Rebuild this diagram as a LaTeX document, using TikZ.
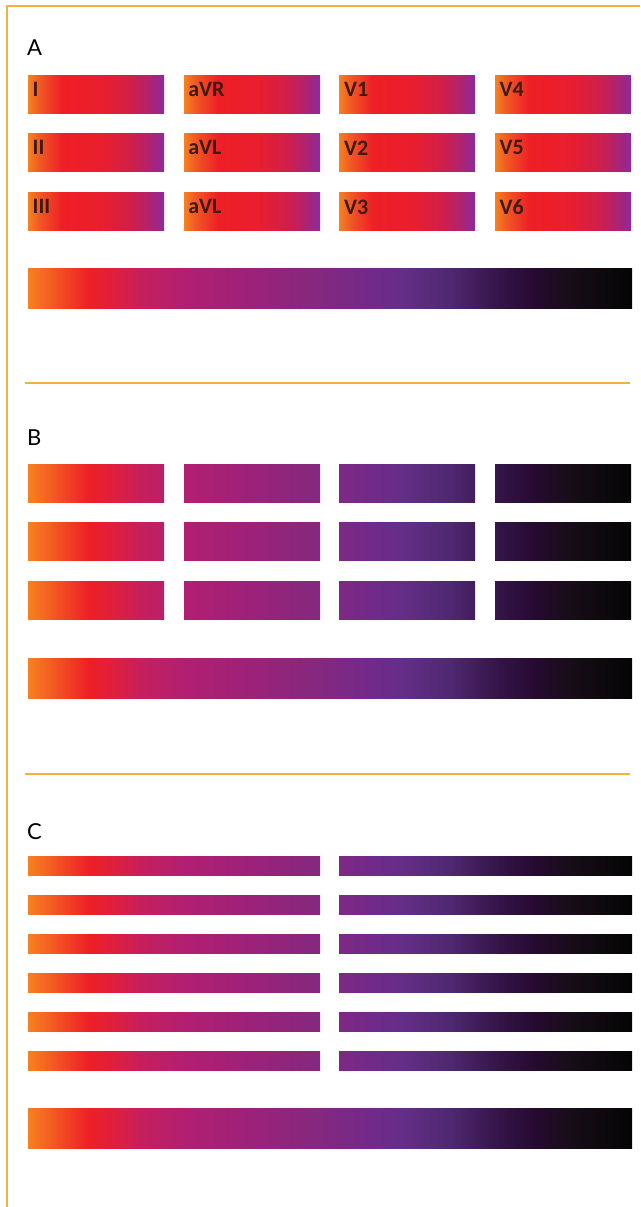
\documentclass[tikz,border=0pt]{standalone}
\usepackage{fontspec}
\newfontfamily\leadfont{Carlito}
\newfontfamily\panelfont{Lato}
\definecolor{frameline}{HTML}{F0B43E}
\definecolor{leadink}{HTML}{3E1A12}
% colour scale of the long bars
\definecolor{hA}{HTML}{F7821F}
\definecolor{hB}{HTML}{F35A22}
\definecolor{hC}{HTML}{EE1F25}
\definecolor{hD}{HTML}{E01F3C}
\definecolor{hE}{HTML}{C51F5E}
\definecolor{hF}{HTML}{B21F72}
\definecolor{hG}{HTML}{9E2179}
\definecolor{hH}{HTML}{85287F}
\definecolor{hI}{HTML}{74298A}
\definecolor{hJ}{HTML}{642E88}
\definecolor{hK}{HTML}{4E2870}
\definecolor{hL}{HTML}{341448}
\definecolor{hM}{HTML}{260A30}
\definecolor{hN}{HTML}{170D17}
\definecolor{hO}{HTML}{050505}
\pgfdeclarehorizontalshading{heatscale}{100bp}{color(0bp)=(hA); color(25bp)=(hA);
    color(27bp)=(hB); color(30bp)=(hC); color(32bp)=(hD); color(34.5bp)=(hE);
    color(38bp)=(hF); color(43bp)=(hG); color(49bp)=(hH); color(53bp)=(hI);
    color(56bp)=(hJ); color(60bp)=(hK); color(64bp)=(hL); color(67bp)=(hM);
    color(70bp)=(hN); color(75bp)=(hO); color(100bp)=(hO)}
% colour scale of the lead bars
\definecolor{lA}{HTML}{F58220}
\definecolor{lB}{HTML}{F15A24}
\definecolor{lC}{HTML}{EE1F25}
\definecolor{lD}{HTML}{E91E2E}
\definecolor{lE}{HTML}{D11F48}
\definecolor{lF}{HTML}{B3226C}
\definecolor{lG}{HTML}{8C2A9C}
\pgfdeclarehorizontalshading{leadscale}{100bp}{color(0bp)=(lA); color(25bp)=(lA);
    color(29bp)=(lB); color(37.5bp)=(lC); color(52.5bp)=(lD); color(62.5bp)=(lE);
    color(69bp)=(lF); color(75bp)=(lG); color(100bp)=(lG)}
\newcommand\drawHeatStrip[4]{
    \begin{scope}
        \clip (#1,#2) rectangle (#3,#4);
        \shade[shading=heatscale] (28,#2) rectangle (632,#4);
    \end{scope}
}
\tikzset{
    frame/.style = {draw=frameline, line width=2},
    leadlabel/.style = {anchor=north west, inner sep=0, text=leadink,
        font=\leadfont\bfseries\fontsize{22}{22}\selectfont},
    panellabel/.style = {anchor=north west, inner sep=0,
        font=\panelfont\fontsize{22}{22}\selectfont}
}
\begin{document}
\begin{tikzpicture}[x=1pt,y=-1pt]
        \useasboundingbox (0,0) rectangle (640,1207);
        \draw[frame] (640,6) -- (7,6) -- (7,1207);
        \draw[frame] (25,383) -- (630,383);
        \draw[frame] (25,774) -- (630,774);

        \node[panellabel] (panel-A) at (27,40) {A};
        \node[panellabel] (panel-B) at (27,430) {B};
        \node[panellabel] (panel-C) at (27,823) {C};

        % A: twelve leads
        \foreach \yoffset in {75,133,192}{
            \foreach \xoffset in {28,184,339,495}{
                \shade[shading=leadscale] (\xoffset,\yoffset) rectangle (\xoffset+136,\yoffset+38);
            }
        }
        \foreach \yoffset/\row/\names in {75/1/{I,aVR,V1,V4},133/2/{II,aVL,V2,V5},192/3/{III,aVL,V3,V6}}{
            \foreach \lbl [count=\col] in \names{
                \node[leadlabel] (lead-\row-\col) at ({28+(\col-1)*155.67+4.5},\yoffset+7.5) {\lbl};
            }
        }
        \drawHeatStrip{28}{268}{632}{308};

        % B: the scale cut in four
        \foreach \yoffset in {464,522,581}{
            \foreach \xoffset in {28,184,339,495}{
                \drawHeatStrip{\xoffset}{\yoffset}{\xoffset+136}{\yoffset+38};
            }
        }
        \drawHeatStrip{28}{658}{632}{698};

        % C: the scale cut in two
        \foreach \yoffset in {856,895,934,973,1012,1051}{
            \drawHeatStrip{28}{\yoffset}{320}{\yoffset+19.5};
            \drawHeatStrip{339}{\yoffset}{632}{\yoffset+19.5};
        }
        \drawHeatStrip{28}{1108}{632}{1148};
    \end{tikzpicture}
\end{document}
